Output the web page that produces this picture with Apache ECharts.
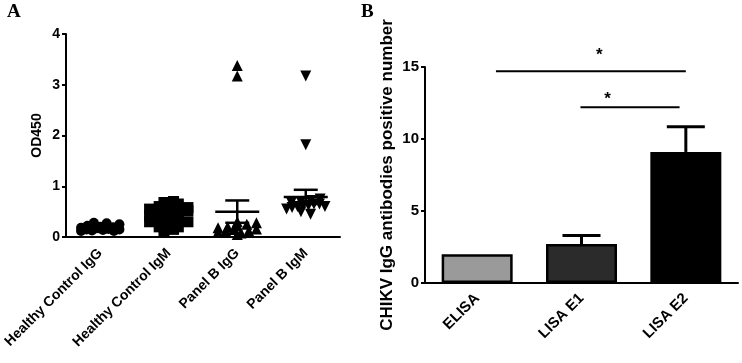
<!DOCTYPE html>
<html>
<head>
<meta charset="UTF-8">
<title>OD450 / CHIKV</title>
<style>
  html, body { margin: 0; padding: 0; background: #fff; }
  #main { width: 742px; height: 363px; }
</style>
</head>
<body>
<div id="main"></div>
<script src="https://cdn.jsdelivr.net/npm/echarts@6/dist/echarts.min.js"></script>
<script>
// ---- panel A data ----
var groupsA = ['Healthy Control IgG', 'Healthy Control IgM', 'Panel B IgG', 'Panel B IgM'];
var hcIgG = [0.12, 0.15, 0.18, 0.22, 0.28, 0.13, 0.17, 0.20, 0.27, 0.14, 0.16, 0.19, 0.12, 0.25, 0.15];
var hcIgM = [0.10, 0.15, 0.20, 0.25, 0.30, 0.35, 0.40, 0.42, 0.45, 0.48, 0.50, 0.52, 0.55, 0.60, 0.62, 0.65, 0.68, 0.70, 0.38, 0.30, 0.58, 0.20];
var pbIgG = [0.10, 0.12, 0.15, 0.18, 0.20, 0.22, 0.25, 0.28, 0.30, 0.08, 0.12, 0.16, 0.05, 3.38, 3.17];
var pbIgM = [0.50, 0.55, 0.58, 0.60, 0.62, 0.62, 0.65, 0.65, 0.68, 0.70, 0.72, 0.75, 0.45, 0.60, 1.82, 3.17];
var meanA = [0.17, 0.44, 0.50, 0.79];
var semA = [0.02, 0.04, 0.22, 0.14];
var ticksA = [0, 1, 2, 3, 4];

// ---- panel B data ----
var methodsB = ['ELISA', 'LISA E1', 'LISA E2'];
var countB = [2.0, 2.7, 9.1];
var errB = [0, 0.6, 1.75];
var colorsB = ['#9a9a9a', '#2b2b2b', '#000000'];
var ticksB = [0, 5, 10, 15];
// [from, to, line height, star x, star height]
var sigB = [[0.18, 2.0, 14.7, 1.17, 15.97], [0.99, 1.94, 12.2, 1.25, 12.9]];

var FONT = '"Liberation Sans", Arial, sans-serif';

// simple swarm offsets: points with close values are spread sideways
function swarm(vals, bin, step, maxHalf) {
  var bins = {};
  vals.forEach(function (v, i) {
    var k = Math.round(v / bin);
    (bins[k] = bins[k] || []).push(i);
  });
  var off = [];
  Object.keys(bins).forEach(function (k) {
    var idx = bins[k], n = idx.length;
    var s = n > 1 ? Math.min(step, 2 * maxHalf / (n - 1)) : 0;
    idx.forEach(function (i, j) { off[i] = (j - (n - 1) / 2) * s; });
  });
  return off;
}

function pts(vals, g) {
  var off = swarm(vals, 0.12, 0.14, 0.28);
  return vals.map(function (v, i) { return [g + off[i], v]; });
}

var chart = echarts.init(document.getElementById('main'));

var axisTxt = { color: '#000', fontWeight: 'bold', fontFamily: FONT };
var dot = { color: '#000', opacity: 1 };

chart.setOption({
  animation: false,
  backgroundColor: '#fff',
  graphic: [
    { type: 'text', left: 7, top: 3, style: { text: 'A', font: 'bold 19px "Liberation Serif", "Times New Roman", serif', fill: '#000' } },
    { type: 'text', left: 361, top: 3, style: { text: 'B', font: 'bold 19px "Liberation Serif", "Times New Roman", serif', fill: '#000' } }
  ],
  grid: [
    { left: 66, right: 402, top: 34, bottom: 126 },
    { left: 425, right: 4, top: 67, bottom: 80 }
  ],
  xAxis: [
    {
      gridIndex: 0, type: 'category', data: groupsA,
      axisLine: { lineStyle: { color: '#000', width: 2 } },
      axisTick: { alignWithLabel: true, length: 5, lineStyle: { color: '#000', width: 2 } },
      axisLabel: Object.assign({ rotate: 45, fontSize: 14, margin: 14, interval: 0 }, axisTxt)
    },
    { gridIndex: 0, type: 'value', min: -0.5, max: 3.5, show: false },
    {
      gridIndex: 1, type: 'category', data: methodsB,
      axisLine: { lineStyle: { color: '#000', width: 2 } },
      axisTick: { alignWithLabel: true, length: 5, lineStyle: { color: '#000', width: 2 } },
      axisLabel: Object.assign({ rotate: 45, fontSize: 15, margin: 13, interval: 0 }, axisTxt)
    },
    { gridIndex: 1, type: 'value', min: -0.5, max: 2.5, show: false }
  ],
  yAxis: [
    {
      gridIndex: 0, type: 'value', min: ticksA[0], max: ticksA[ticksA.length - 1], interval: 1,
      name: 'OD450', nameLocation: 'middle', nameGap: 22,
      nameTextStyle: Object.assign({ fontSize: 14 }, axisTxt),
      axisLine: { show: true, onZero: false, lineStyle: { color: '#000', width: 2 } },
      axisTick: { show: true, length: 4, lineStyle: { color: '#000', width: 2 } },
      axisLabel: Object.assign({ fontSize: 14, margin: 6 }, axisTxt),
      splitLine: { show: false }
    },
    {
      gridIndex: 1, type: 'value', min: ticksB[0], max: ticksB[ticksB.length - 1], interval: 5,
      name: 'CHIKV IgG antibodies positive number', nameLocation: 'middle', nameGap: 29,
      nameTextStyle: Object.assign({ fontSize: 17 }, axisTxt),
      axisLine: { show: true, onZero: false, lineStyle: { color: '#000', width: 2 } },
      axisTick: { show: true, length: 4, lineStyle: { color: '#000', width: 2 } },
      axisLabel: Object.assign({ fontSize: 15, margin: 6 }, axisTxt),
      splitLine: { show: false }
    }
  ],
  series: [
    { type: 'scatter', xAxisIndex: 1, yAxisIndex: 0, symbol: 'circle', symbolSize: 10,
      itemStyle: dot, data: pts(hcIgG, 0) },
    { type: 'scatter', xAxisIndex: 1, yAxisIndex: 0, symbol: 'rect', symbolSize: 11,
      itemStyle: dot, data: pts(hcIgM, 1) },
    { type: 'scatter', xAxisIndex: 1, yAxisIndex: 0, symbol: 'triangle', symbolSize: 11,
      itemStyle: dot, data: pts(pbIgG, 2) },
    { type: 'scatter', xAxisIndex: 1, yAxisIndex: 0, symbol: 'triangle', symbolSize: 11, symbolRotate: 180,
      itemStyle: dot, data: pts(pbIgM, 3) },
    // mean +/- SEM for panel A
    {
      type: 'custom', xAxisIndex: 1, yAxisIndex: 0, z: 5,
      data: meanA.map(function (m, i) { return [i, m, semA[i]]; }),
      renderItem: function (params, api) {
        var x = api.value(0), m = api.value(1), s = api.value(2);
        var c = api.coord([x, m]), hi = api.coord([x, m + s]), lo = api.coord([x, m - s]);
        var st = { stroke: '#000', lineWidth: 2.5 };
        return { type: 'group', children: [
          { type: 'line', shape: { x1: c[0] - 22, y1: c[1], x2: c[0] + 22, y2: c[1] }, style: st },
          { type: 'line', shape: { x1: c[0], y1: lo[1], x2: c[0], y2: hi[1] }, style: st },
          { type: 'line', shape: { x1: c[0] - 12, y1: hi[1], x2: c[0] + 12, y2: hi[1] }, style: st },
          { type: 'line', shape: { x1: c[0] - 12, y1: lo[1], x2: c[0] + 12, y2: lo[1] }, style: st }
        ] };
      }
    },
    // panel B bars
    {
      type: 'bar', xAxisIndex: 2, yAxisIndex: 1, barWidth: 71,
      data: countB.map(function (v, i) {
        return { value: v, itemStyle: { color: colorsB[i], borderColor: '#000', borderWidth: 2.5 } };
      })
    },
    // panel B error bars (upper only)
    {
      type: 'custom', xAxisIndex: 3, yAxisIndex: 1, z: 5,
      data: countB.map(function (v, i) { return [i, v, errB[i]]; }),
      renderItem: function (params, api) {
        var e = api.value(2);
        if (!e) return null;
        var b = api.coord([api.value(0), api.value(1)]);
        var t = api.coord([api.value(0), api.value(1) + e]);
        var st = { stroke: '#000', lineWidth: 3 };
        return { type: 'group', children: [
          { type: 'line', shape: { x1: b[0], y1: b[1], x2: t[0], y2: t[1] }, style: st },
          { type: 'line', shape: { x1: t[0] - 19, y1: t[1], x2: t[0] + 19, y2: t[1] }, style: st }
        ] };
      }
    },
    // significance lines
    {
      type: 'custom', xAxisIndex: 3, yAxisIndex: 1, z: 5,
      data: sigB,
      renderItem: function (params, api) {
        var a = api.coord([api.value(0), api.value(2)]);
        var b = api.coord([api.value(1), api.value(2)]);
        var s = api.coord([api.value(3), api.value(4)]);
        return { type: 'group', children: [
          { type: 'line', shape: { x1: a[0], y1: a[1], x2: b[0], y2: b[1] }, style: { stroke: '#000', lineWidth: 2 } },
          { type: 'text', x: s[0], y: s[1] + 11, style: { text: '*', fill: '#000', font: 'bold 17px ' + FONT, align: 'center', verticalAlign: 'bottom' } }
        ] };
      }
    }
  ]
});
</script>
</body>
</html>
